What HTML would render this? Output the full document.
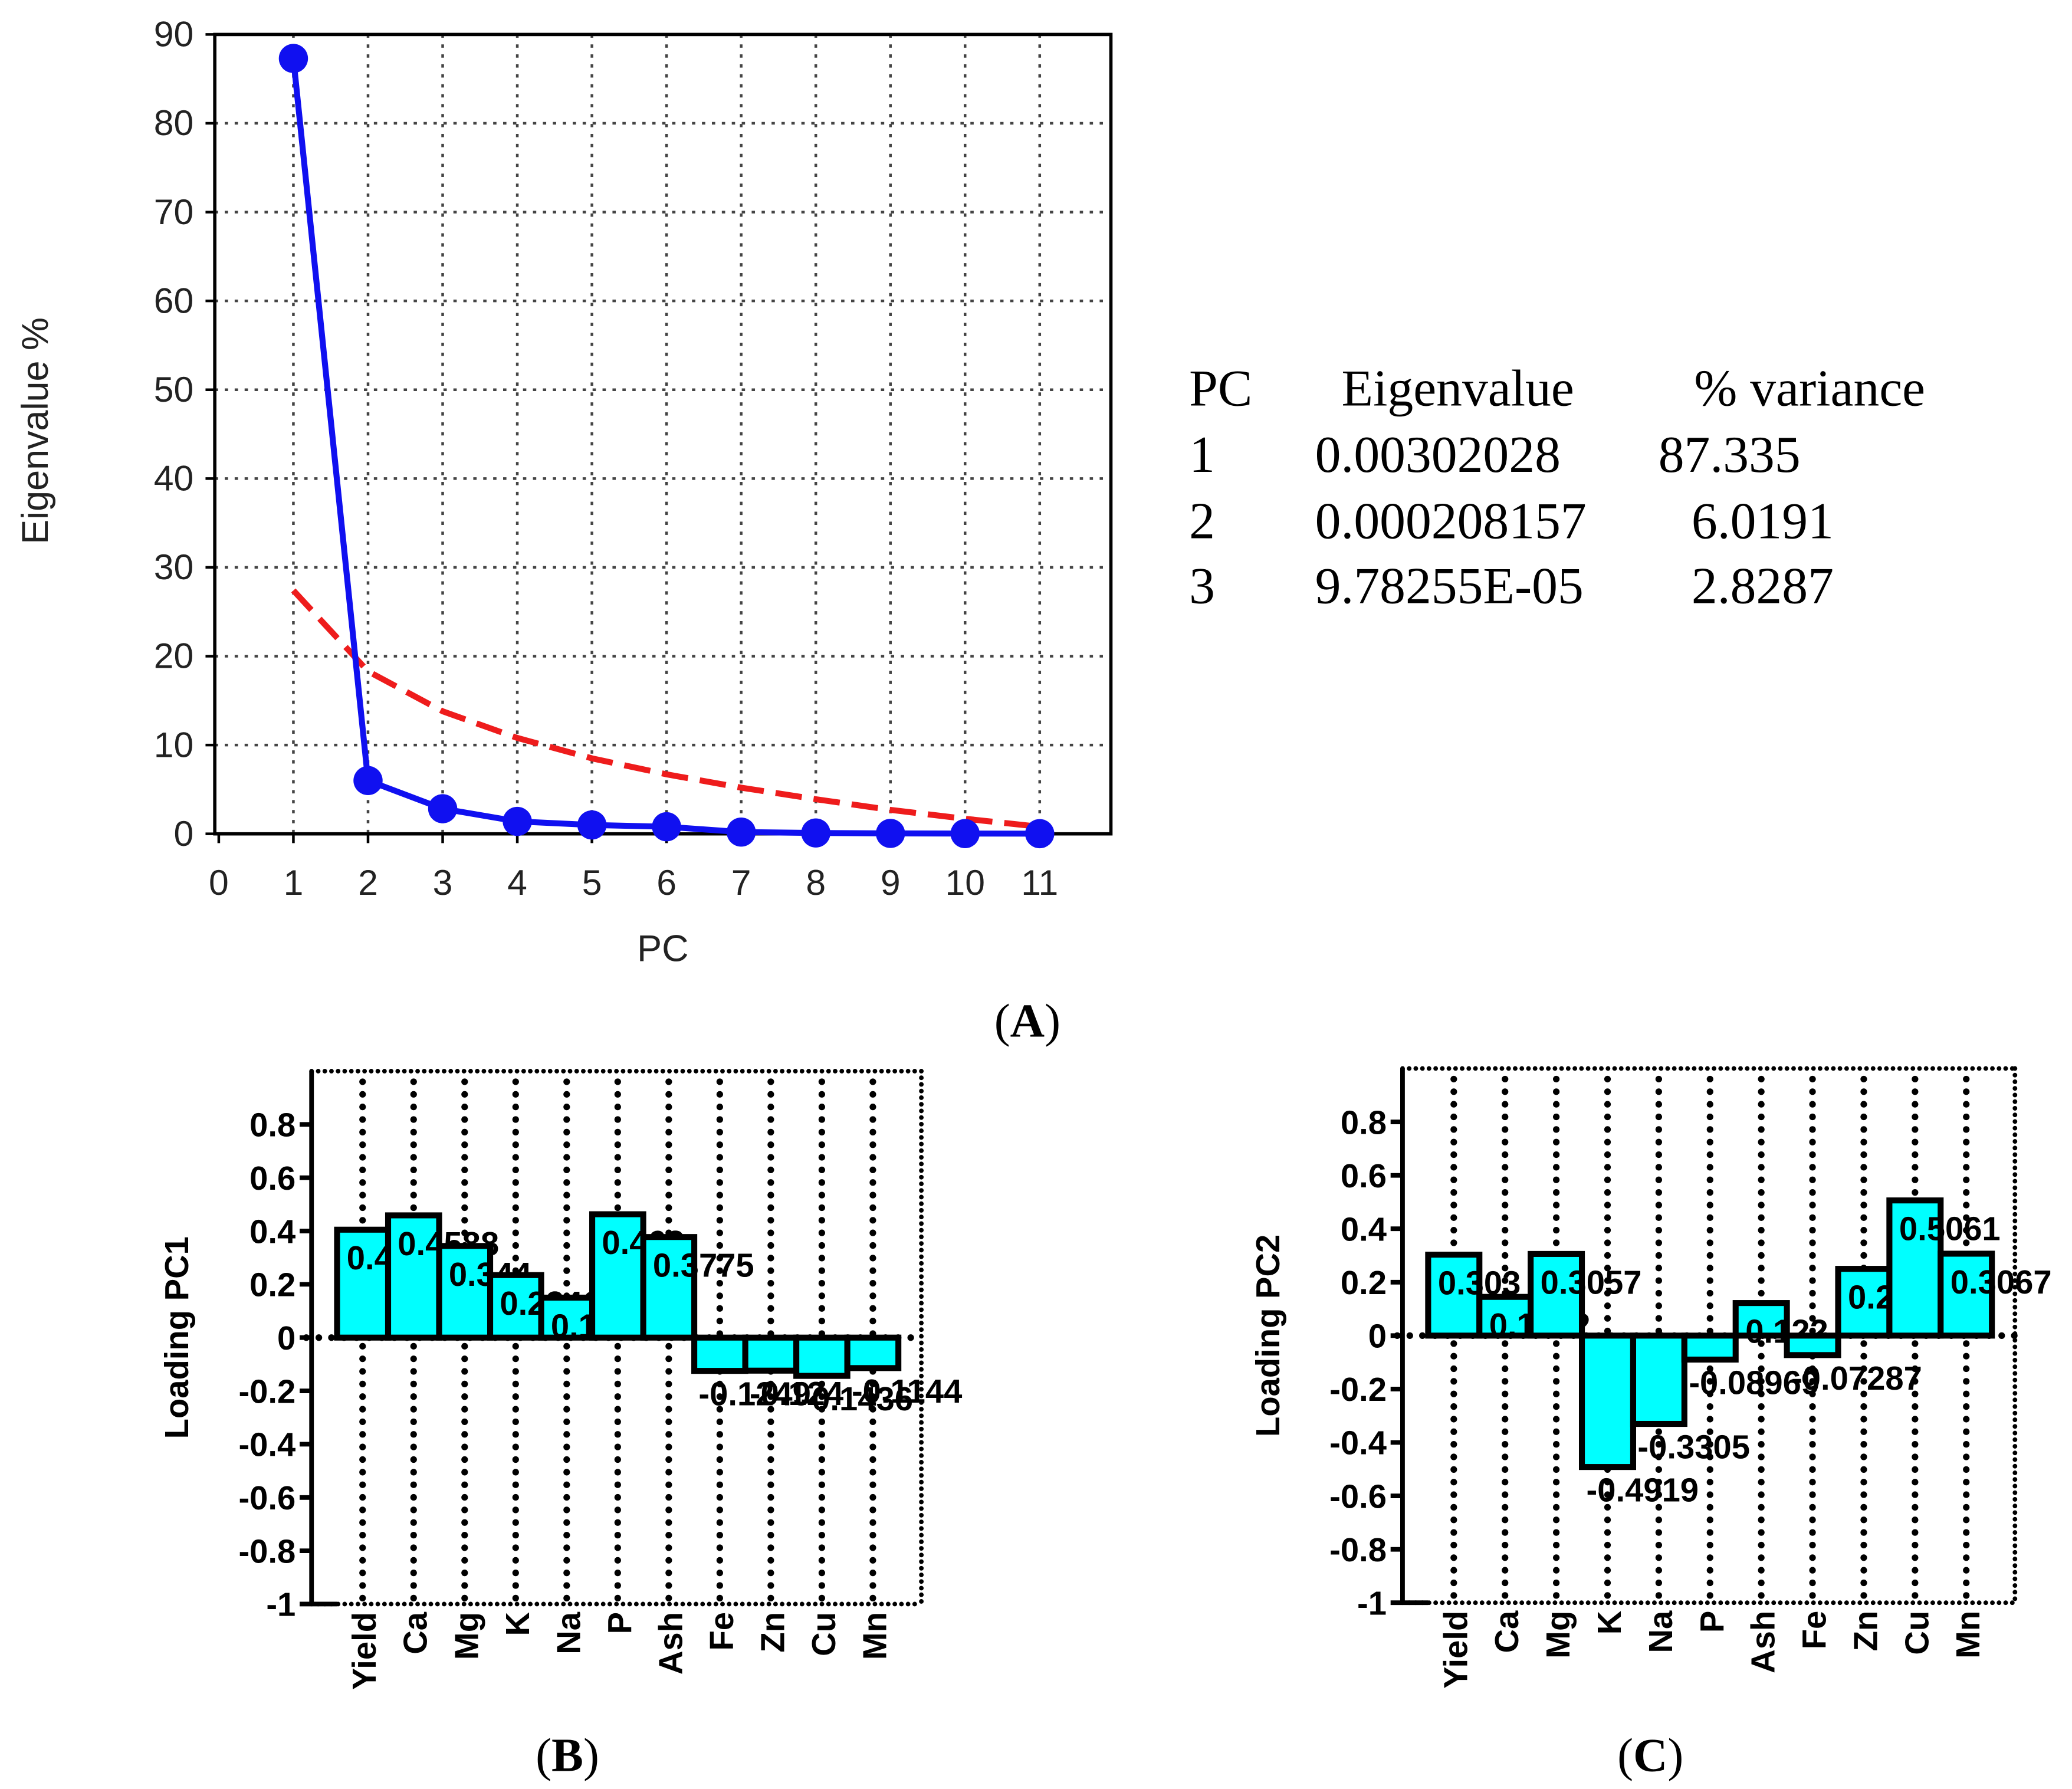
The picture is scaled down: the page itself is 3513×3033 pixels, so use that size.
<!DOCTYPE html>
<html><head><meta charset="utf-8"><style>
html,body{margin:0;padding:0;background:#fff}
svg{display:block}
text{font-family:"Liberation Sans",Arial,sans-serif}
.serif{font-family:"Liberation Serif","Times New Roman",serif}
</style></head><body>
<svg id="root" width="3513" height="3033" viewBox="0 0 1563 1349.5" xmlns="http://www.w3.org/2000/svg">
<g id="chartA"></g>
<g id="table" class="serif" font-size="39" fill="#000">
  <text x="897" y="306" class="serif">PC</text>
  <text x="1012" y="306" class="serif">Eigenvalue</text>
  <text x="1278" y="306" class="serif">% variance</text>
  <text x="897" y="356" class="serif">1</text>
  <text x="992" y="356" class="serif">0.00302028</text>
  <text x="1251" y="356" class="serif">87.335</text>
  <text x="897" y="406" class="serif">2</text>
  <text x="992" y="406" class="serif">0.000208157</text>
  <text x="1276" y="406" class="serif">6.0191</text>
  <text x="897" y="455" class="serif">3</text>
  <text x="992" y="455" class="serif">9.78255E-05</text>
  <text x="1276" y="455" class="serif">2.8287</text>
</g>
<text x="775" y="782" text-anchor="middle" font-size="36" class="serif">(<tspan font-weight="bold">A</tspan>)</text>
<g id="chartB"></g>
<g id="chartC"></g>
<text x="428" y="1336" text-anchor="middle" font-size="36" class="serif">(<tspan font-weight="bold">B</tspan>)</text>
<text x="1245" y="1336" text-anchor="middle" font-size="36" class="serif">(<tspan font-weight="bold">C</tspan>)</text>
</svg>
<script>
// ---- Scree plot data ----
const pcNumbers = [1,2,3,4,5,6,7,8,9,10,11];
const eigenPercent = [87.3,6.0,2.83,1.4,1.0,0.8,0.2,0.1,0.05,0.03,0.02];
const brokenStick = [27.4,18.3,13.8,10.8,8.5,6.7,5.2,3.9,2.7,1.7,0.8];
const screeXTicks = [0,1,2,3,4,5,6,7,8,9,10,11];
const screeYTicks = [0,10,20,30,40,50,60,70,80,90];

// ---- Loadings data ----
const variables = ["Yield","Ca","Mg","K","Na","P","Ash","Fe","Zn","Cu","Mn"];
const loadingPC1 = [0.405,0.4588,0.344,0.2346,0.15,0.463,0.3775,-0.1249,-0.1240,-0.1436,-0.1144];
const labelsPC1 = ["0.4052","0.4588","0.344","0.2346","0.1502","0.463","0.3775","-0.1249","-0.124","-0.1436","-0.1144"];
const loadingPC2 = [0.303,0.145,0.3057,-0.4919,-0.3305,-0.08969,0.122,-0.07287,0.25,0.5061,0.3067];
const labelsPC2 = ["0.303","0.1452","0.3057","-0.4919","-0.3305","-0.08969","0.122","-0.07287","0.2502","0.5061","0.3067"];
const loadingYTicks = [0.8,0.6,0.4,0.2,0,-0.2,-0.4,-0.6,-0.8,-1];

const NS = "http://www.w3.org/2000/svg";
function mk(tag, attrs, parent){
  const e = document.createElementNS(NS, tag);
  for (const k in attrs) e.setAttribute(k, attrs[k]);
  parent.appendChild(e);
  return e;
}

// ===== Chart A =====
(function(){
  const g = document.getElementById('chartA');
  const L=162, R=838, T=26, B=629;
  const xs = v => 165 + v*56.3;
  const ys = v => B - v*(B-T)/90;
  screeYTicks.forEach(t=>{
    if (t>0 && t<90){
      const gl = mk('line',{x1:L,x2:R,y1:ys(t),y2:ys(t),stroke:'#444','stroke-width':2,'stroke-dasharray':'2.5 5'},g);
      
      
    }
    const tk = mk('line',{x1:L-7,x2:L,y1:ys(t),y2:ys(t),stroke:'#000','stroke-width':2},g);
    
    
    const tl = mk('text',{x:L-16,y:ys(t)+9,'text-anchor':'end','font-size':27,fill:'#222'},g);
    tl.textContent = t;
    
    
  });
  screeXTicks.forEach(t=>{
    if (t>0){
      const gl = mk('line',{x1:xs(t),x2:xs(t),y1:T,y2:B,stroke:'#444','stroke-width':2,'stroke-dasharray':'2.5 5'},g);
      
      
    }
    const tk = mk('line',{x1:xs(t),x2:xs(t),y1:B,y2:B+7,stroke:'#000','stroke-width':2},g);
    
    
    const tl = mk('text',{x:xs(t),y:B+46,'text-anchor':'middle','font-size':27,fill:'#222'},g);
    tl.textContent = t;
    
    
  });
  const frame = mk('rect',{x:L,y:T,width:R-L,height:B-T,fill:'none',stroke:'#000','stroke-width':2.5},g);
  
  
  const red = mk('polyline',{points:pcNumbers.map((p,i)=>xs(p)+','+ys(brokenStick[i])).join(' '),fill:'none',stroke:'#ee1c1c','stroke-width':4.5,'stroke-dasharray':'20 9'},g);
  
  
  const blue = mk('polyline',{points:pcNumbers.map((p,i)=>xs(p)+','+ys(eigenPercent[i])).join(' '),fill:'none',stroke:'#1010f0','stroke-width':4.5},g);
  
  
  pcNumbers.forEach((p,i)=>{
    const c = mk('circle',{cx:xs(p),cy:ys(eigenPercent[i]),r:11,fill:'#1010f0'},g);
    
    
  });
  const yl = mk('text',{x:0,y:0,transform:'translate(36,325) rotate(-90)','text-anchor':'middle','font-size':28,fill:'#222'},g);
  yl.textContent='Eigenvalue %';
  
  
  const xl = mk('text',{x:500,y:725,'text-anchor':'middle','font-size':28,fill:'#222'},g);
  xl.textContent='PC';
  
  
})();

// ===== Loading charts =====
function loadingChart(id, L, R, T, B, values, labels, title){
  const g = document.getElementById(id);
  const ys = v => T + (1 - v)*(B-T)/2;
  const step = (R-L)/11.95;
  const xs = i => L + step*(i+1);
  const bw = step;
  variables.forEach((v,i)=>{
    const gl = mk('line',{x1:xs(i),x2:xs(i),y1:T+8,y2:B-4,stroke:'#000','stroke-width':5,'stroke-linecap':'round','stroke-dasharray':'0 9.5'},g);
    
    
  });
  const zl = mk('line',{x1:L-4,x2:R,y1:ys(0),y2:ys(0),stroke:'#000','stroke-width':5,'stroke-linecap':'round','stroke-dasharray':'0 9.5'},g);
  
  
  const tb = mk('line',{x1:L,x2:R,y1:T,y2:T,stroke:'#000','stroke-width':3.5,'stroke-linecap':'round','stroke-dasharray':'0 5'},g);
  
  
  const rb = mk('line',{x1:R,x2:R,y1:T,y2:B,stroke:'#000','stroke-width':3.5,'stroke-linecap':'round','stroke-dasharray':'0 5'},g);
  
  
  const bb = mk('line',{x1:L,x2:R,y1:B,y2:B,stroke:'#000','stroke-width':3.5,'stroke-linecap':'round','stroke-dasharray':'0 5'},g);
  
  
  const ya = mk('line',{x1:L,x2:L,y1:T,y2:B+1.5,stroke:'#000','stroke-width':3.5},g);
  
  
  const xa = mk('line',{x1:L,x2:L+step*0.5,y1:B,y2:B,stroke:'#000','stroke-width':3.5},g);
  
  
  loadingYTicks.forEach(t=>{
    const tk = mk('line',{x1:L-9,x2:L,y1:ys(t),y2:ys(t),stroke:'#000','stroke-width':3.5},g);
    
    
    const tl = mk('text',{x:L-12,y:ys(t)+9,'text-anchor':'end','font-size':25,'font-weight':'bold'},g);
    tl.textContent = t;
    
    
  });
  values.forEach((v,i)=>{
    const y0 = ys(0), y1 = ys(v);
    const r = mk('rect',{x:xs(i)-bw/2,y:Math.min(y0,y1),width:bw,height:Math.abs(y1-y0),fill:'#00ffff',stroke:'#000','stroke-width':4.5},g);
    
    
    const ly = v>=0 ? y1+30 : y1+26;
    const lx = v>=0 ? xs(i)-12 : xs(i)-16;
    const t = mk('text',{x:lx,y:ly,'font-size':25,'font-weight':'bold'},g);
    t.textContent = labels[i];
    
    
  });
  variables.forEach((v,i)=>{
    const t = mk('text',{x:0,y:0,transform:'translate('+(xs(i)+10)+','+(B+6)+') rotate(-90)','text-anchor':'end','font-size':25,'font-weight':'bold'},g);
    t.textContent = v;
    
    
  });
  const yl = mk('text',{x:0,y:0,transform:'translate('+(L-93)+','+ys(0)+') rotate(-90)','text-anchor':'middle','font-size':25,'font-weight':'bold'},g);
  yl.textContent = title;
  
  
}
loadingChart('chartB',235,695,808,1210,loadingPC1,labelsPC1,'Loading PC1');
loadingChart('chartC',1058,1520,806,1209,loadingPC2,labelsPC2,'Loading PC2');
</script>
</body></html>
